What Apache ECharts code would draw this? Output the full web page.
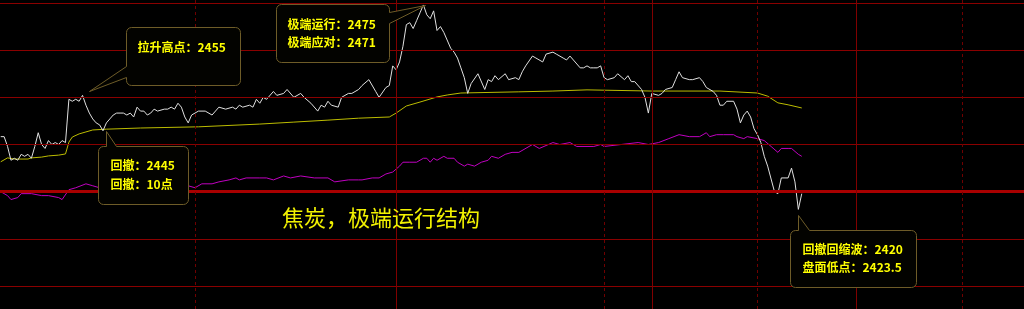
<!DOCTYPE html>
<html>
<head>
<meta charset="utf-8">
<script src="https://cdn.jsdelivr.net/npm/echarts@6/dist/echarts.min.js"></script>
<style>
html,body{margin:0;padding:0;background:#000;}
#c{width:1024px;height:309px;}
</style>
</head>
<body>
<div id="c"></div>
<script>
// ---------- DATA (trading-minute index since 21:00, price) ----------
const priceMinutes = [3,4,5,6,7,8,9,10,11,12,13,14,15,16,17,18,19,20,21,22,23,24,25,26,27,28,29,30,31,32,33,34,35,36,37,38,39,40,41,42,43,44,45,46,47,48,49,51,52,53,54,55,56,57,58,59,60,61,63,65,67,69,71,72,73,74,76,77,78,79,80,81,83,84,86,87,89,91,92,94,96,97,98,99,100,102,103,105,106,108,109,111,113,114,116,117,118,119,120,121,122,123,124,125,126,127,128,129,130,131,132,133,135,136,137,138,139,140,141,143,145,146,147,148,149,151,152,154,155,156,157,159,160,162,163,165,166,168,169,170,171,173,174,175,176,177,178,179,180,181,183,184,186,187,188,189,191,192,193,194,196,197,198,200,201,202,203,205,206,208,209,210,212,213,214,215,216,218,219,220,221,222,223,224,225,226,227,228,230,231,232,234,235,236,237,238];
const priceValues = [2442,2442,2439.5,2436,2436.5,2436,2437.5,2437,2437.5,2436.5,2439.5,2443,2440,2439,2441,2440,2440.5,2440,2441,2440.5,2451.5,2451,2451.5,2451,2452.5,2450,2448,2446.5,2445.5,2445,2443.5,2445.5,2446.5,2447.5,2448,2448,2448,2447.5,2448,2447,2449.5,2448.5,2448.5,2447.5,2448,2449,2448.5,2449,2449,2449.5,2449,2450.5,2449.5,2447,2445.5,2447.5,2448,2448.5,2448.5,2447.5,2449.5,2449,2449.5,2449,2450,2449.5,2450,2449.5,2451.5,2450.5,2452,2451.5,2453.5,2452.5,2453,2454,2452,2453,2452,2450.5,2448.5,2450,2449.5,2451,2450,2449.5,2452,2453,2453,2454,2455,2456.5,2453.5,2452,2454.5,2455,2460,2459,2461,2465,2470.5,2471,2469.5,2471.5,2473.5,2475.5,2473,2472,2474,2469,2470,2468.5,2464.5,2463.5,2462,2459.5,2457,2453,2455.5,2458,2454,2456.5,2456,2457.5,2456.5,2458,2456.5,2457,2456.5,2458.5,2460,2462.5,2462,2461,2463,2463.5,2463,2462,2461.5,2462.5,2461.5,2459.5,2459.5,2460,2459.5,2459.5,2459.5,2460,2457,2456.5,2457,2458,2456.5,2457.5,2456,2456,2454,2452,2448,2453,2452.5,2453,2454,2454.5,2456.5,2458.5,2457,2456.5,2456.5,2457,2456,2454.5,2453.5,2452.5,2450,2450,2451,2451,2449,2445.5,2447.5,2448.5,2447,2444,2442.5,2440.5,2437,2434.5,2428,2427.5,2431.5,2431.5,2434,2430.5,2423.5,2427.5];

const avgMinutes = [3,5,7,11,12,15,17,20,22,23,24,26,28,30,34,44,61,79,89,99,108,117,119,122,126,131,134,138,155,165,175,194,214,225,228,231,234,238];
const avgValues  = [2435.6,2436.6,2436.3,2436.3,2436.6,2436.8,2437.1,2437.3,2437.6,2440.6,2441.9,2442.7,2443.2,2443.7,2443.9,2444.2,2444.5,2445.2,2445.7,2446.2,2446.7,2447.0,2448.0,2449.8,2450.8,2452.1,2452.6,2453.1,2453.4,2453.6,2453.9,2453.6,2453.6,2453.1,2452.3,2450.6,2450.1,2449.3];

const magMinutes = [3,5,6,8,9,12,15,17,20,21,23,25,28,30,32,35,41,47,53,58,60,62,65,67,70,72,73,75,79,81,83,86,88,91,95,99,101,105,108,109,112,114,116,118,120,121,123,125,127,128,129,130,131,133,134,136,137,139,140,142,144,146,147,149,151,153,155,159,161,165,167,170,172,175,177,179,180,185,190,193,196,199,202,205,208,210,211,213,215,218,219,221,222,225,227,229,231,232,234,235,237,238];
const magValues  = [2428,2427,2426,2426.5,2427.5,2427.5,2427,2427,2426.5,2426,2428.5,2429,2430,2429.5,2429,2429,2429,2429.5,2429.5,2429.5,2429,2430,2430,2430.5,2431,2431.5,2431,2431.5,2431.5,2431.5,2431,2432,2431.5,2432,2431.5,2431.5,2430.5,2431,2431,2431,2431.5,2431.5,2432.5,2433,2434.5,2435.5,2435.5,2435.5,2436.5,2436.5,2435.5,2436.5,2436,2437,2436.5,2436.5,2435.5,2434.5,2435,2434.5,2435.5,2436,2437,2436.5,2437.5,2438,2438,2440,2439,2440.5,2440,2440.5,2439.5,2439.5,2439.5,2440,2439.5,2440,2440.5,2440,2440.5,2441.5,2442.5,2442,2442,2443,2442,2442.5,2442.5,2442.5,2442,2441.5,2442,2441.5,2441,2439.5,2438,2439,2439,2439,2437.5,2437];

const gridLevels = [2476, 2464, 2452, 2440, 2416, 2404];
const prevClose = 2428;
const sessionEndMinutes = [119, 194, 254];
const hourMinutes = [60, 180, 225, 285];

const titleText = '焦炭，极端运行结构';
const noteTips  = [[29, 2453.5], [127.5, 2475.5], [34, 2443.5], [237, 2422]];
const noteTexts = [
  ['拉升高点：2455'],
  ['极端运行：2475', '极端应对：2471'],
  ['回撤：2445', '回撤：10点'],
  ['回撤回缩波：2420', '盘面低点：2423.5']
];

// ---------- LAYOUT / STYLE ----------
const X_MIN = 2.787, X_MAX = 303.2;
const Y_MIN = 2398.16, Y_MAX = 2476.76;
const noteLayout = [
  {dx: 37,   dy: -64, w: 114, h: 58, side: 'left',  a: 39, b: 50, tx: 11, ty: [20]},
  {dx: -149, dy: -1,  w: 113, h: 58, side: 'right', a: 8,  b: 19, tx: 11, ty: [20, 38]},
  {dx: -8,   dy: 15,  w: 90,  h: 58, side: 'top',   a: 8,  b: 18, tx: 12, ty: [19, 38]},
  {dx: -8,   dy: 15,  w: 126, h: 57, side: 'top',   a: 8,  b: 19, tx: 12, ty: [19, 37]}
];

const zip = (xs, ys) => xs.map((x, i) => [x, ys[i]]);

const gridLines = [];
gridLevels.forEach(v => gridLines.push({yAxis: v, lineStyle: {color: '#8a0000', width: 1, type: 'solid'}}));
gridLines.push({yAxis: prevClose, lineStyle: {color: '#a80000', width: 3, type: 'solid'}});
sessionEndMinutes.forEach(v => gridLines.push({xAxis: v, lineStyle: {color: '#800000', width: 1, type: 'solid'}}));
hourMinutes.forEach(v => gridLines.push({xAxis: v, lineStyle: {color: '#700000', width: 1, type: [3, 3]}}));

const chart = echarts.init(document.getElementById('c'), null, {renderer: 'canvas'});
chart.setOption({
  backgroundColor: '#000',
  animation: false,
  grid: {left: 0, right: 0, top: 0, bottom: 0},
  xAxis: {type: 'value', min: X_MIN, max: X_MAX, show: false},
  yAxis: {type: 'value', min: Y_MIN, max: Y_MAX, show: false},
  title: {
    text: titleText, left: 282, top: 207, padding: 0,
    textStyle: {color: '#f2f200', fontSize: 22, fontWeight: 'normal', fontFamily: '"Noto Sans CJK SC", sans-serif'}
  },
  series: [
    {
      type: 'line', z: 1, silent: true, showSymbol: false,
      data: [[X_MIN, prevClose]],
      lineStyle: {width: 0, opacity: 0},
      markLine: {silent: true, symbol: ['none', 'none'], label: {show: false}, animation: false, data: gridLines}
    },
    {type: 'line', z: 3, name: 'mag', data: zip(magMinutes, magValues), showSymbol: false, silent: true,
     lineStyle: {color: '#c000c0', width: 1}},
    {type: 'line', z: 3, name: 'avg', data: zip(avgMinutes, avgValues), showSymbol: false, silent: true,
     lineStyle: {color: '#bcbc00', width: 1}},
    {type: 'line', z: 4, name: 'price', data: zip(priceMinutes, priceValues), showSymbol: false, silent: true,
     lineStyle: {color: '#e0e0e0', width: 1}}
  ]
});

function arcPts(cx, cy, r, a0, a1) {
  const pts = [];
  const n = 4;
  for (let i = 0; i <= n; i++) {
    const a = (a0 + (a1 - a0) * i / n) * Math.PI / 180;
    pts.push([cx + r * Math.cos(a), cy + r * Math.sin(a)]);
  }
  return pts;
}

const graphics = [];
noteTips.forEach((tipData, k) => {
  const L = noteLayout[k];
  const tp = chart.convertToPixel({gridIndex: 0}, tipData);
  const tip = [Math.round(tp[0]) + 0.5, Math.round(tp[1]) + 0.5];
  const x0 = Math.round(tp[0] + L.dx) + 0.5, y0 = Math.round(tp[1] + L.dy) + 0.5;
  const x1 = x0 + L.w, y1 = y0 + L.h, r = 5;
  let pts = [];
  pts = pts.concat(arcPts(x0 + r, y0 + r, r, 180, 270));
  if (L.side === 'top') pts.push([x0 + L.a, y0], tip, [x0 + L.b, y0]);
  pts = pts.concat(arcPts(x1 - r, y0 + r, r, 270, 360));
  if (L.side === 'right') pts.push([x1, y0 + L.a], tip, [x1, y0 + L.b]);
  pts = pts.concat(arcPts(x1 - r, y1 - r, r, 0, 90));
  pts = pts.concat(arcPts(x0 + r, y1 - r, r, 90, 180));
  if (L.side === 'left') pts.push([x0, y0 + L.b], tip, [x0, y0 + L.a]);
  graphics.push({
    type: 'polygon', z: 100, silent: true,
    shape: {points: pts},
    style: {fill: '#030300', stroke: '#6e5c28', lineWidth: 1}
  });
  noteTexts[k].forEach((t, j) => {
    graphics.push({
      type: 'text', z: 101, silent: true,
      x: x0 + L.tx, y: y0 + L.ty[j],
      style: {text: t, fill: '#ffff00', font: 'bold 12px "Noto Sans CJK SC", sans-serif', textVerticalAlign: 'middle', textAlign: 'left'}
    });
  });
});
chart.setOption({graphic: graphics});
</script>
</body>
</html>
